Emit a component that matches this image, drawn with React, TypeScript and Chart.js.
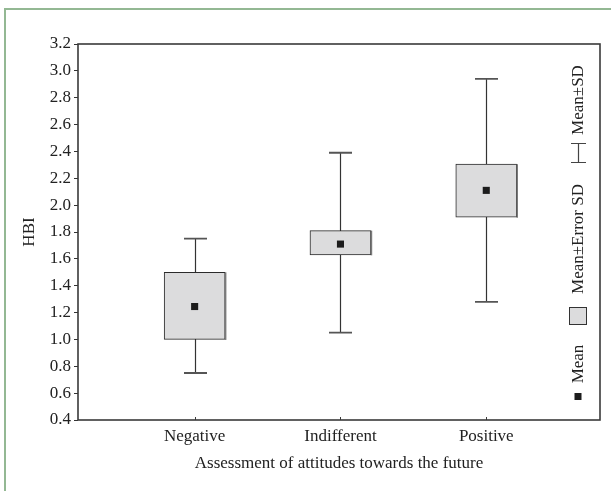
import React, { useEffect, useRef } from "react";
import { Chart, registerables } from "chart.js";

Chart.register(...registerables);

const categories = ["Negative", "Indifferent", "Positive"];
const means = [1.245, 1.71, 2.11];
const errLow = [1.0, 1.63, 1.91];
const errHigh = [1.5, 1.81, 2.305];
const sdLow = [0.75, 1.05, 1.28];
const sdHigh = [1.75, 2.39, 2.94];
const yTicks = [0.4, 0.6, 0.8, 1.0, 1.2, 1.4, 1.6, 1.8, 2.0, 2.2, 2.4, 2.6, 2.8, 3.0, 3.2];
const xTitle = "Assessment of attitudes towards the future";
const yTitle = "HBI";
const legendLabels = ["Mean", "Mean±Error SD", "Mean±SD"];

const FONT_FAMILY = "'Liberation Serif', 'DejaVu Serif', serif";
const TEXT = "#222222";

const overlay = {
  id: "overlay",
  beforeDatasetsDraw(chart: any) {
    const { ctx, scales } = chart;
    const x = scales.x, y = scales.y;
    ctx.save();
    categories.forEach((_, i) => {
      const px = Math.round(x.getPixelForValue(i + 1)) + 0.5;
      const top = y.getPixelForValue(sdHigh[i]);
      const bot = y.getPixelForValue(sdLow[i]);
      ctx.strokeStyle = "#333333";
      ctx.lineWidth = 1.2;
      ctx.beginPath();
      ctx.moveTo(px, top);
      ctx.lineTo(px, bot);
      ctx.stroke();
      ctx.strokeStyle = "#555555";
      ctx.lineWidth = 1.8;
      ctx.beginPath();
      ctx.moveTo(px - 11.5, top);
      ctx.lineTo(px + 11.5, top);
      ctx.moveTo(px - 11.5, bot);
      ctx.lineTo(px + 11.5, bot);
      ctx.stroke();
    });
    ctx.restore();
  },
  afterDatasetsDraw(chart: any) {
    const { ctx } = chart;
    const meta = chart.getDatasetMeta(1);
    ctx.save();
    ctx.strokeStyle = "#7a7a7a";
    ctx.lineWidth = 1.5;
    meta.data.forEach((bar: any) => {
      const p = bar.getProps(["x", "y", "base", "width"], true);
      const r = p.x + p.width / 2 + 0.5;
      ctx.beginPath();
      ctx.moveTo(r, Math.min(p.y, p.base));
      ctx.lineTo(r, Math.max(p.y, p.base) + 0.5);
      ctx.stroke();
    });
    ctx.restore();
  },
  afterDraw(chart: any) {
    const { ctx, chartArea, scales } = chart;
    const x = scales.x;
    ctx.save();
    ctx.strokeStyle = "#3a3a3a";
    ctx.lineWidth = 1.6;
    ctx.strokeRect(chartArea.left, chartArea.top, chartArea.right - chartArea.left, chartArea.bottom - chartArea.top);
    ctx.lineWidth = 1;
    categories.forEach((_, i) => {
      const px = Math.round(x.getPixelForValue(i + 1)) + 0.5;
      ctx.beginPath();
      ctx.moveTo(px, chartArea.bottom);
      ctx.lineTo(px, chartArea.bottom - 3);
      ctx.stroke();
    });
    const lx = 578;
    ctx.fillStyle = "#1c1c1c";
    ctx.fillRect(lx - 3.5, 393, 7, 7);
    ctx.fillStyle = "#dcdcdd";
    ctx.strokeStyle = "#333333";
    ctx.lineWidth = 1;
    ctx.fillRect(lx - 9, 307, 18, 18);
    ctx.strokeRect(lx - 8.5, 307.5, 17, 17);
    ctx.strokeStyle = "#444444";
    ctx.lineWidth = 1.2;
    ctx.beginPath();
    ctx.moveTo(lx + 0.5, 143);
    ctx.lineTo(lx + 0.5, 163);
    ctx.moveTo(lx - 7, 143.5);
    ctx.lineTo(lx + 8, 143.5);
    ctx.moveTo(lx - 7, 162.5);
    ctx.lineTo(lx + 8, 162.5);
    ctx.stroke();
    ctx.fillStyle = TEXT;
    ctx.font = `17px ${FONT_FAMILY}`;
    ctx.textAlign = "center";
    ctx.textBaseline = "middle";
    const centers = [364, 239, 100];
    legendLabels.forEach((t, i) => {
      ctx.save();
      ctx.translate(lx + 1, centers[i]);
      ctx.rotate(-Math.PI / 2);
      ctx.fillText(t, 0, 0);
      ctx.restore();
    });
    ctx.restore();
  },
};

export default function App() {
  const ref = useRef<HTMLCanvasElement | null>(null);
  useEffect(() => {
    if (!ref.current) return;
    const font = { family: FONT_FAMILY, size: 17 };
    const chart = new Chart(ref.current, {
      type: "bar",
      data: {
        datasets: [
          {
            type: "scatter",
            label: legendLabels[0],
            data: means.map((m, i) => ({ x: i + 1, y: m })),
            pointStyle: "rect",
            pointRadius: 5,
            backgroundColor: "#1c1c1c",
            borderColor: "#1c1c1c",
            borderWidth: 0,
            order: 1,
          } as any,
          {
            type: "bar",
            label: legendLabels[1],
            data: categories.map((_, i) => ({ x: i + 1, y: [errLow[i], errHigh[i]] })),
            backgroundColor: "#dcdcdd",
            borderColor: "#2b2b2b",
            borderWidth: 1,
            borderSkipped: false,
            barThickness: 61,
            order: 2,
          } as any,
        ],
      },
      options: {
        responsive: false,
        animation: false,
        layout: { padding: { top: 44, right: 11, left: 0, bottom: 0 } },
        plugins: { legend: { display: false }, tooltip: { enabled: false } },
        scales: {
          x: {
            type: "linear",
            offset: false,
            min: 0.2,
            max: 3.78,
            afterBuildTicks: (s: any) => {
              s.ticks = categories.map((_, i) => ({ value: i + 1 }));
            },
            afterFit: (s: any) => {
              s.height = 71;
            },
            ticks: {
              callback: (v: any) => categories[Math.round(Number(v)) - 1] ?? "",
              font,
              color: TEXT,
              padding: -2,
              maxRotation: 0,
            },
            grid: { display: false },
            border: { display: false },
            title: { display: true, text: xTitle, font, color: TEXT, padding: { top: 0, bottom: 17 } },
          },
          y: {
            type: "linear",
            min: 0.4,
            max: 3.2,
            afterBuildTicks: (s: any) => {
              s.ticks = yTicks.map((v) => ({ value: v }));
            },
            afterFit: (s: any) => {
              s.width = 78;
            },
            ticks: {
              callback: (v: any) => Number(v).toFixed(1),
              font,
              color: TEXT,
              padding: 3,
            },
            grid: { drawOnChartArea: false, drawTicks: true, tickLength: 4, color: "#333333" },
            border: { display: false },
            title: { display: true, text: yTitle, font, color: TEXT, padding: { top: 19, bottom: 0 } },
          },
        },
      } as any,
      plugins: [overlay],
    });
    return () => chart.destroy();
  }, []);
  return (
    <div style={{ position: "fixed", left: 0, top: 0, width: 611, height: 491, overflow: "hidden", background: "#ffffff" }}>
      <div
        style={{
          position: "absolute",
          left: 4,
          top: 8,
          width: 800,
          height: 800,
          borderLeft: "2px solid #93b893",
          borderTop: "2px solid #93b893",
        }}
      />
      <canvas ref={ref} width={611} height={491} style={{ position: "absolute", left: 0, top: 0, display: "block" }} />
    </div>
  );
}
